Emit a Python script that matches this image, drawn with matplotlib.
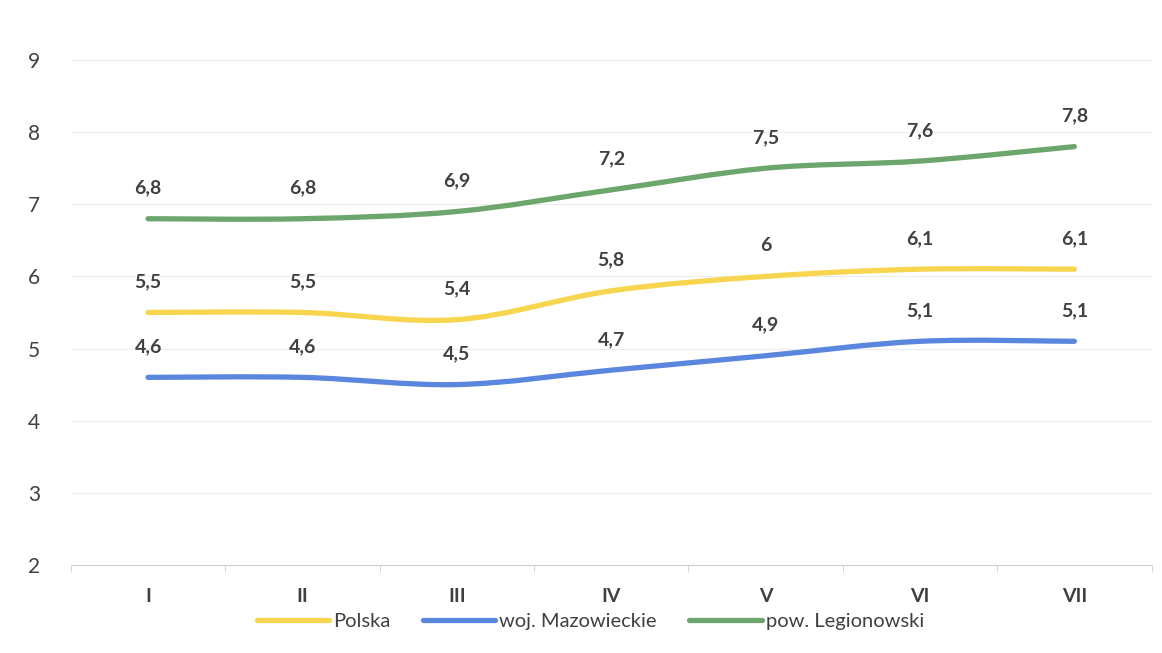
import matplotlib
matplotlib.use("Agg")
import matplotlib.pyplot as plt
from matplotlib.path import Path
from matplotlib.patches import PathPatch
from matplotlib.lines import Line2D
import numpy as np

categories = ["I", "II", "III", "IV", "V", "VI", "VII"]
polska = [5.5, 5.5, 5.4, 5.8, 6.0, 6.1, 6.1]
mazowieckie = [4.6, 4.6, 4.5, 4.7, 4.9, 5.1, 5.1]
legionowski = [6.8, 6.8, 6.9, 7.2, 7.5, 7.6, 7.8]
series_names = ["Polska", "woj. Mazowieckie", "pow. Legionowski"]
colors = ["#F7D54E", "#5B86DE", "#6CA66C"]

plt.rcParams['font.family'] = ['Lato', 'DejaVu Sans']

fig = plt.figure(figsize=(11.62, 6.53), dpi=100)
ax = fig.add_axes([0.061, 0.135, 0.930, 0.773])

x = np.arange(1, len(categories) + 1)


def smooth_path(xs, ys, t=1/6):
    verts = [(xs[0], ys[0])]
    codes = [Path.MOVETO]
    n = len(xs)
    for i in range(n - 1):
        x0, y0 = (xs[i - 1], ys[i - 1]) if i > 0 else (xs[i], ys[i])
        x1, y1 = xs[i], ys[i]
        x2, y2 = xs[i + 1], ys[i + 1]
        x3, y3 = (xs[i + 2], ys[i + 2]) if i + 2 < n else (xs[i + 1], ys[i + 1])
        c1 = (x1 + (x2 - x0) * t, y1 + (y2 - y0) * t)
        c2 = (x2 - (x3 - x1) * t, y2 - (y3 - y1) * t)
        verts += [c1, c2, (x2, y2)]
        codes += [Path.CURVE4] * 3
    return Path(verts, codes)


def fmt(v):
    s = ("%.1f" % v).rstrip("0").rstrip(".")
    return s.replace(".", ",")


for vals, col in zip([polska, mazowieckie, legionowski], colors):
    p = smooth_path(x, vals)
    ax.add_patch(PathPatch(p, facecolor="none", edgecolor=col, lw=3.8,
                           capstyle="round", joinstyle="round", zorder=3))
    for xi, v in zip(x, vals):
        ax.annotate(fmt(v), (xi, v), xytext=(0, 16), textcoords="offset points",
                    ha="center", va="bottom", fontsize=14, fontweight="bold",
                    color="#404040", zorder=4)

ax.set_xlim(0.5, len(categories) + 0.5)
ax.set_ylim(2, 9)
ax.set_yticks(range(2, 10))
ax.yaxis.grid(True, color="#EDEDED", lw=0.8)
ax.set_axisbelow(True)
ax.set_xticks(x)
ax.set_xticklabels(categories, fontsize=14, fontweight="bold", color="#404040")
ax.set_xticks(np.arange(0.5, len(categories) + 1, 1), minor=True)
ax.tick_params(axis="x", which="major", length=0, pad=17)
ax.tick_params(axis="x", which="minor", length=5, color="#D0D0D0")
ax.tick_params(axis="y", length=0, labelsize=15, labelcolor="#404040", pad=22)
for s in ["top", "right", "left"]:
    ax.spines[s].set_visible(False)
ax.spines["bottom"].set_color("#D0D0D0")

handles = [Line2D([0], [0], color=c, lw=3.8, solid_capstyle="round") for c in colors]
fig.legend(handles, series_names, loc="center", bbox_to_anchor=(0.508, 0.048), ncol=3,
           frameon=False, fontsize=14.5, handlelength=3.6, columnspacing=1.6,
           handletextpad=0.2, labelcolor="#404040")

fig.savefig("out.png", dpi=100, facecolor="white")
